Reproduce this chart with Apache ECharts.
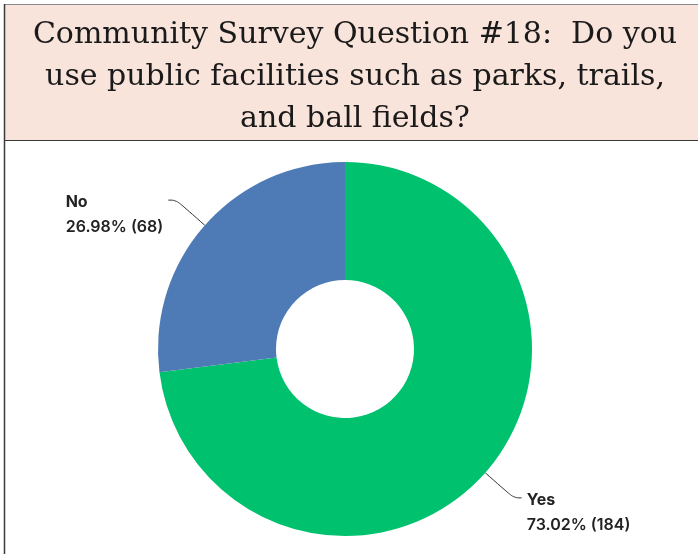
<!DOCTYPE html>
<html>
<head>
<meta charset="utf-8">
<script src="https://cdn.jsdelivr.net/npm/echarts@6/dist/echarts.min.js"></script>
<style>
html,body{margin:0;padding:0;background:#fff;}
#c{width:698px;height:554px;}
</style>
</head>
<body>
<div id="c"></div>
<script>
var titleLines = ['Community Survey Question #18:  Do you', 'use public facilities such as parks, trails,', 'and ball fields?'];
var categories = ['Yes', 'No'];
var counts = [184, 68];
var percents = ['73.02', '26.98'];
var colors = ['#00c16e', '#4e7bb5'];

var chart = echarts.init(document.getElementById('c'), null, {renderer: 'canvas'});
var data = categories.map(function (name, i) {
  return {name: name, value: counts[i], itemStyle: {color: colors[i]}, pct: percents[i]};
});
chart.setOption({
  animation: false,
  backgroundColor: '#ffffff',
  graphic: [
    {type: 'rect', shape: {x: 4, y: 4, width: 700, height: 136}, style: {fill: '#f9e4dc', stroke: null}, z: 0},
    {type: 'line', shape: {x1: 4, y1: 4.5, x2: 698, y2: 4.5}, style: {stroke: '#8a8a8a', lineWidth: 1}},
    {type: 'line', shape: {x1: 4, y1: 140.5, x2: 698, y2: 140.5}, style: {stroke: '#3a3a3a', lineWidth: 1.2}},
    {type: 'line', shape: {x1: 4.5, y1: 4, x2: 4.5, y2: 554}, style: {stroke: '#3a3a3a', lineWidth: 1.5}}
  ],
  title: {
    text: titleLines.join('\n'),
    left: 350,
    top: 9,
    textAlign: 'center',
    textStyle: {fontFamily: 'DejaVu Serif', fontSize: 30, fontWeight: 'normal', color: '#1a1a1a', lineHeight: 42}
  },
  series: [{
    type: 'pie',
    center: [345, 349],
    radius: [69, 187],
    startAngle: 90,
    clockwise: true,
    data: data,
    label: {
      show: true,
      position: 'outside',
      padding: [30, 0, 0, 0],
      formatter: function (p) { return '{b|' + p.name + '}\n{v|' + p.data.pct + '% (' + p.value + ')}'; },
      rich: {
        b: {fontFamily: 'Inter', fontSize: 16, fontWeight: 'bold', color: '#222', lineHeight: 25, align: 'left'},
        v: {fontFamily: 'Inter', fontSize: 16, fontWeight: 600, color: '#222', lineHeight: 25, align: 'left'}
      },
      distanceToLabelLine: 5
    },
    labelLine: {show: true, length: 38, length2: 8, smooth: 0.4, lineStyle: {color: '#333', width: 1}},
    emphasis: {disabled: true}
  }]
});
</script>
</body>
</html>
